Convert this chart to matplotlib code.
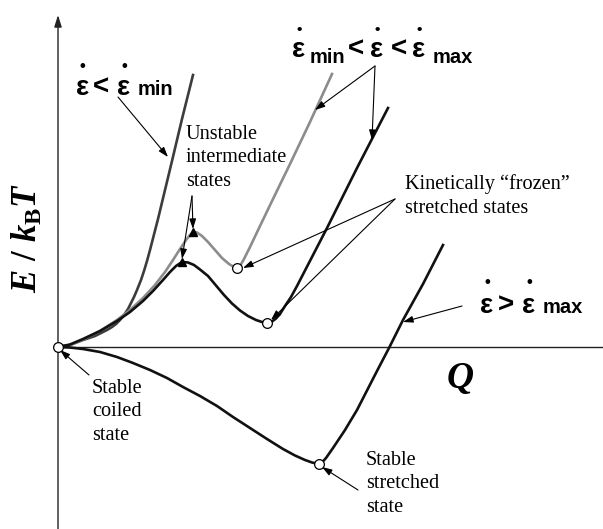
import matplotlib
matplotlib.use("Agg")
import matplotlib.pyplot as plt

plt.rcParams['font.family'] = ['Liberation Serif', 'DejaVu Serif']
plt.rcParams['mathtext.fontset'] = 'custom'
plt.rcParams['mathtext.rm'] = 'Liberation Serif:bold'
plt.rcParams['mathtext.it'] = 'Liberation Serif:bold:italic'

# energy landscapes E(Q) for the strain-rate regimes (schematic units)
q_slow = [0, 12, 25, 37, 49, 54, 58, 62, 66, 70, 73, 76, 79, 83, 86, 89, 92,
          100, 107, 114, 124, 135]
e_slow = [0, 2, 7, 11, 17, 20, 23, 27, 32, 38, 44, 50, 57, 67, 76, 86, 97,
          128, 157, 186, 228, 272]

q_mid1 = [0, 12, 25, 42, 59, 72, 85, 97, 107, 115, 122, 128, 132, 135, 139, 144,
          150, 157, 164, 171, 176, 179, 182, 186, 192, 202, 215, 232, 252, 274]
e_mid1 = [0, 2, 7.5, 16, 27, 37, 49, 62, 75, 87, 98, 107, 112, 115, 114.5, 111,
          105, 97, 89, 83, 80, 79, 81, 88, 100, 121, 148, 183, 225, 273]

q_mid2 = [0, 12, 25, 42, 59, 72, 85, 95, 105, 112, 118, 124, 130, 136, 142, 150,
          158, 166, 174, 182, 190, 198, 204, 209, 214, 218, 222, 227, 233, 239,
          254, 269, 284, 299, 315, 330]
e_mid2 = [0, 2.5, 8, 16, 26, 35, 46, 56, 67, 75, 81, 85, 84.5, 82, 77.5, 71,
          61.5, 52, 43.5, 36.5, 31, 27, 25, 24, 25.5, 28.5, 33, 41, 50, 61,
          90, 119, 149, 179, 210, 239]

q_fast = [0, 12, 25, 42, 59, 75, 92, 109, 125, 142, 159, 175, 192, 209, 225, 237,
          247, 254, 261, 264, 268, 275, 287, 299, 319, 331, 345, 365, 385]
e_fast = [0, -0.5, -2, -5, -10, -16, -23, -31, -40, -49, -59, -70, -81, -92, -102,
          -108.5, -113, -115.5, -117, -115.5, -111, -101, -83, -63, -24, -1, 27,
          63, 102]

# special states on each curve
i_peak1 = e_mid1.index(max(e_mid1[:20]))
i_min1 = e_mid1.index(min(e_mid1[i_peak1:]))
i_peak2 = e_mid2.index(max(e_mid2[:20]))
i_min2 = e_mid2.index(min(e_mid2[i_peak2:]))
i_min_fast = e_fast.index(min(e_fast))

fig = plt.figure(figsize=(6.03, 5.29), dpi=100)
ax = fig.add_axes([0, 0, 1, 1])
ax.set_xlim(-58, 545)
ax.set_ylim(-182, 347)
ax.axis('off')

# axes
ax.annotate('', xy=(0, 332), xytext=(0, -182),
            arrowprops=dict(arrowstyle='-|>,head_length=0.7,head_width=0.22',
                            lw=1.0, color='#222222', shrinkA=0, shrinkB=0))
ax.hlines(0, 0, 545, color='#222222', lw=1.0)

lw = 1.9
ax.plot(q_slow, e_slow, color='#3c3c3c', lw=lw, solid_joinstyle='round')
ax.plot(q_mid1, e_mid1, color='#8c8c8c', lw=lw, solid_joinstyle='round')
ax.plot(q_mid2, e_mid2, color='#111111', lw=lw, solid_joinstyle='round')
ax.plot(q_fast, e_fast, color='#111111', lw=lw, solid_joinstyle='round')

# unstable maxima
ax.plot([q_mid1[i_peak1], q_mid2[i_peak2]], [e_mid1[i_peak1], e_mid2[i_peak2]],
        ls='none', marker='^', ms=6, color='black', zorder=5)

# stable / frozen states
ax.plot([0, q_mid1[i_min1], q_mid2[i_min2], q_fast[i_min_fast]],
        [0, e_mid1[i_min1], e_mid2[i_min2], e_fast[i_min_fast]],
        ls='none', marker='o', ms=7, mfc='white', mec='black', mew=0.9, zorder=6)

arrow = dict(arrowstyle='-|>,head_length=0.6,head_width=0.2', lw=0.8,
             color='black', shrinkA=0, shrinkB=0)


def point(x, y):
    ax.annotate('', xy=(x[1], y[1]), xytext=(x[0], y[0]), arrowprops=arrow)


point((60, 110), (250, 190))
point((317, 257), (281, 237))
point((317, 314), (281, 207))
point((134, q_mid1[i_peak1]), (151, e_mid1[i_peak1] + 3))
point((134, q_mid2[i_peak2]), (151, e_mid2[i_peak2] + 3))
point((337, q_mid1[i_min1] + 6), (148, e_mid1[i_min1]))
point((337, q_mid2[i_min2] + 4), (148, e_mid2[i_min2] + 3))
point((404, 345), (41, 25))
point((31, 2), (-28, -3))
point((300, q_fast[i_min_fast] + 3), (-143, e_fast[i_min_fast] - 3))

serif = dict(fontsize=14.6, linespacing=1.33, va='center', ha='left')
ax.text(128, 189, 'Unstable\nintermediate\nstates', **serif)
ax.text(347, 151, 'Kinetically \u201cfrozen\u201d\nstretched states', **serif)
ax.text(34, -65, 'Stable\ncoiled\nstate', **serif)
ax.text(308, -137, 'Stable\nstretched\nstate', **serif)

ax.text(402, -31, 'Q', fontsize=27, fontweight='bold', fontstyle='italic',
        ha='center', va='center')
ax.text(-30, 109, r'$E\ \mathit{/}\ k_{\mathrm{B}}T$', fontsize=25,
        rotation=90, ha='center', va='center')

# strain-rate labels
sans = dict(family='Liberation Sans', fontweight='bold')


def eps_dot(x, base, dot_y, dot_size=12):
    ax.text(x, base, '\u03b5', fontsize=20, ha='center', va='baseline', **sans)
    ax.text(x, dot_y, '\u2022', fontsize=dot_size, ha='center', va='center', **sans)


def sym(x, base, s):
    ax.text(x, base, s, fontsize=20, ha='center', va='baseline', **sans)


def sub(x, base, s):
    ax.text(x, base, s, fontsize=14.5, ha='left', va='baseline', **sans)


eps_dot(24.5, 252, 281)
sym(43.5, 252, '<')
eps_dot(66, 252, 281)
sub(80, 252, 'min')

eps_dot(241, 290, 317, 11)
sub(252, 284, 'min')
sym(298, 290, '<')
eps_dot(319, 290, 317, 11)
sym(341.5, 290, '<')
eps_dot(361, 290, 317, 11)
sub(375, 284, 'max')

eps_dot(429, 34, 64)
sym(448, 34, '>')
eps_dot(471, 34, 64)
sub(485, 34, 'max')

fig.savefig('out.png', dpi=100)
